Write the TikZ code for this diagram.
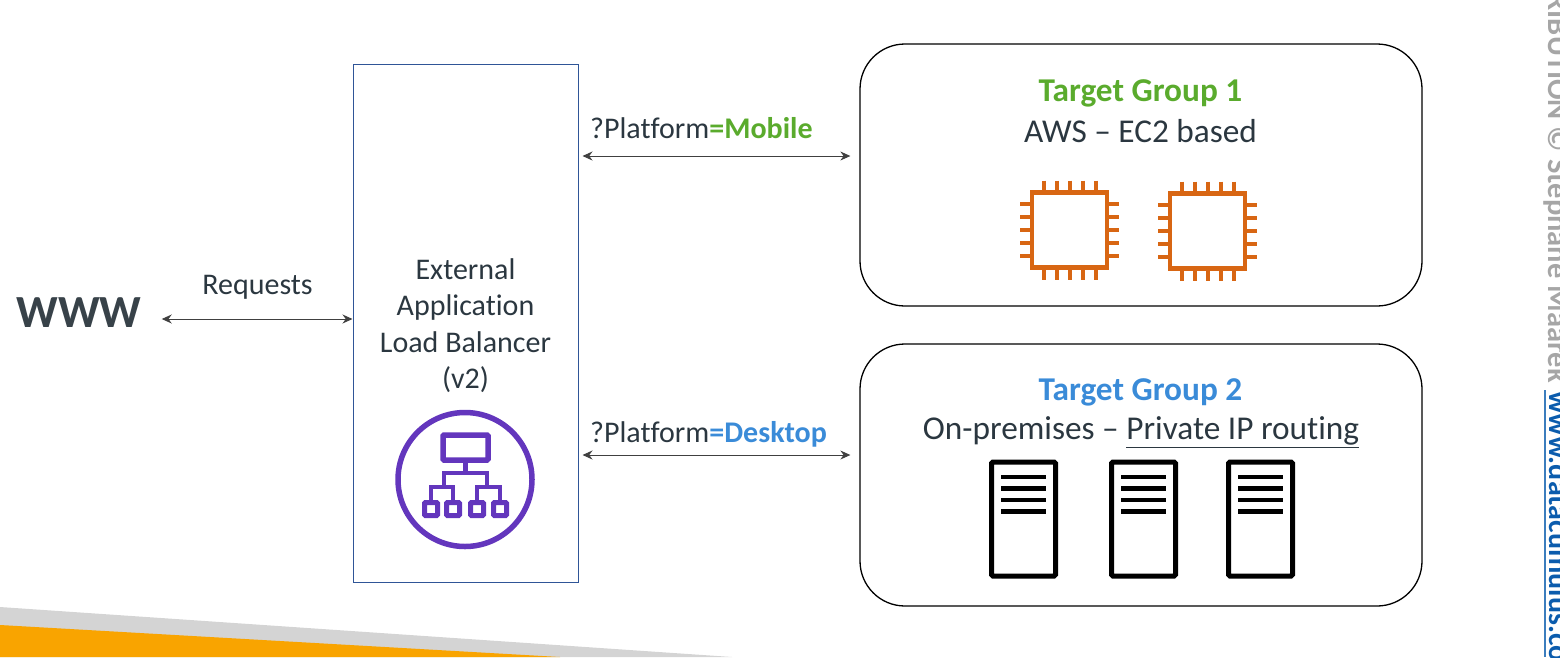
\documentclass[tikz,border=0pt]{standalone}
\usepackage{fontspec}
\setmainfont[Ligatures=NoCommon]{Carlito}
\usetikzlibrary{arrows.meta}
\definecolor{inkdark}{HTML}{2B3740}
\definecolor{greentg}{HTML}{5AAB2D}
\definecolor{bluetg}{HTML}{3A8BD8}
\definecolor{chiporange}{HTML}{D86613}
\definecolor{albpurple}{HTML}{6336BD}
\definecolor{albblue}{HTML}{2F5597}
\definecolor{arrowgray}{HTML}{404040}
\definecolor{slantgray}{HTML}{D4D4D4}
\definecolor{slantorange}{HTML}{F9A400}
\definecolor{markgray}{HTML}{A6A6A6}
\definecolor{linkblue}{HTML}{0B5CAD}
\tikzset{
  label30/.style={text=inkdark, font=\fontsize{30}{36.5}\selectfont, inner sep=0pt},
  label33/.style={text=inkdark, font=\fontsize{33.3}{36}\selectfont, inner sep=0pt},
  groupbox/.style={draw=black, line width=1.3pt, rounded corners=45pt},
  link/.style={<->, >={Stealth[length=10pt,width=9pt]}, draw=arrowgray, line width=1pt},
  chip/.pic={
    \draw[chiporange, line width=4.5pt] (-37.5,-37.5) rectangle (37.5,37.5);
    \foreach \d in {-26,-13,0,13,26} {
      \draw[chiporange, line width=4pt] (\d,-49.5) -- (\d,-38) (\d,38) -- (\d,49.5);
      \draw[chiporange, line width=4pt] (-49.5,\d) -- (-38,\d) (38,\d) -- (49.5,\d);
    }
  },
  rack/.pic={
    \draw[black, line width=5pt, rounded corners=1.5pt] (-32,-57) rectangle (32,57);
    \foreach \h in {-42,-30.5,-19,-7.5}
      \draw[black, line width=4.5pt] (-22.5,\h) -- (22.5,\h);
  },
  leafbox/.pic={
    \draw[albpurple, line width=5pt, rounded corners=1pt] (-6.5,-6.5) rectangle (6.5,6.5);
  }
}
\begin{document}
\begin{tikzpicture}[x=1pt,y=-1pt]
  \useasboundingbox (0,0) rectangle (1560,657);
  \clip (0,0) rectangle (1560,657);
  % slanted band at the bottom
  \fill[slantgray] (0,607) -- (732,657) -- (0,657) -- cycle;
  \fill[slantorange] (0,625) -- (560,657) -- (0,657) -- cycle;
  % www and load balancer
  \node[text=inkdark!85!gray, font=\fontsize{46}{46}\selectfont\bfseries, inner sep=0pt] (www) at (79,313) {WWW};
  \node[draw=albblue, line width=1pt, minimum width=225pt, minimum height=518pt, inner sep=0pt] (alb) at (465.5,323) {};
  \node[label30, align=center, anchor=north] (albtext) at (465.5,258) {External\\Application\\Load Balancer\\(v2)};
  % balancer icon
  \draw[albpurple, line width=5.5pt] (465,479.5) circle (67);
  \draw[albpurple, line width=5.5pt, rounded corners=1pt] (443,435) rectangle (488,460);
  \draw[albpurple, line width=4.5pt] (465.5,460) -- (465.5,473);
  \draw[albpurple, line width=4.5pt] (444,487) -- (444,473) -- (487,473) -- (487,487);
  \draw[albpurple, line width=4.5pt] (431,500) -- (431,487) -- (453,487) -- (453,500);
  \draw[albpurple, line width=4.5pt] (477,500) -- (477,487) -- (500,487) -- (500,500);
  \pic at (431,509) {leafbox};
  \pic at (453,509) {leafbox};
  \pic at (477,509) {leafbox};
  \pic at (500,509) {leafbox};
  % target groups
  \node[groupbox, minimum width=562pt, minimum height=262pt, inner sep=0pt] (tgone) at (1141,175) {};
  \node[groupbox, minimum width=562pt, minimum height=262pt, inner sep=0pt] (tgtwo) at (1141,475) {};
  \node[label33, text=greentg, font=\fontsize{33.3}{36}\selectfont\bfseries] (tgonetitle) at (1140.5,93.5) {Target Group 1};
  \node[label33] (tgonetext) at (1140.5,131) {AWS – EC2 based};
  \node[label33, text=bluetg, font=\fontsize{33.3}{36}\selectfont\bfseries] (tgtwotitle) at (1140.5,392.5) {Target Group 2};
  \node[label33] (tgtwotext) at (1141,432) {On-premises – \underline{Private IP routing}};
  \pic at (1069.5,230) {chip};
  \pic at (1207.5,231) {chip};
  \pic at (1023.5,519) {rack};
  \pic at (1143.5,519) {rack};
  \pic at (1260.5,519) {rack};
  % arrows with labels
  \coordinate (reqmark) at (260,319);
  \coordinate (mobmark) at (700,156);
  \coordinate (deskmark) at (700,455);
  \draw[link] (www.east |- reqmark) ++(20,0) -- (alb.west |- reqmark);
  \draw[link, shorten <=4pt, shorten >=9pt] (alb.east |- mobmark) -- (tgone.west |- mobmark);
  \draw[link, shorten <=4pt, shorten >=9pt] (alb.east |- deskmark) -- (tgtwo.west |- deskmark);
  \node[label30] (reqlabel) at (257.5,287) {Requests};
  \node[label30, anchor=west] (moblabel) at (590,128) {?Platform\textcolor{greentg}{\bfseries =Mobile}};
  \node[label30, anchor=west] (desklabel) at (590,434) {?Platform\textcolor{bluetg}{\bfseries =Desktop}};
  % rotated text at the right edge
  \node[text=markgray, font=\fontsize{30.5}{31}\selectfont\bfseries, rotate=-90, anchor=base east, inner sep=0pt] (markgraytext) at (1548,383) {RIBUTION © Stephane Maarek};
  \node[text=linkblue, font=\fontsize{30}{31}\selectfont\bfseries, rotate=-90, anchor=base west, inner sep=0pt] (marklink) at (1549,391) {www.datacumulus.com};
  \draw[linkblue!80!white, line width=2pt] (1545,390) -- (1545,657);
\end{tikzpicture}
\end{document}
